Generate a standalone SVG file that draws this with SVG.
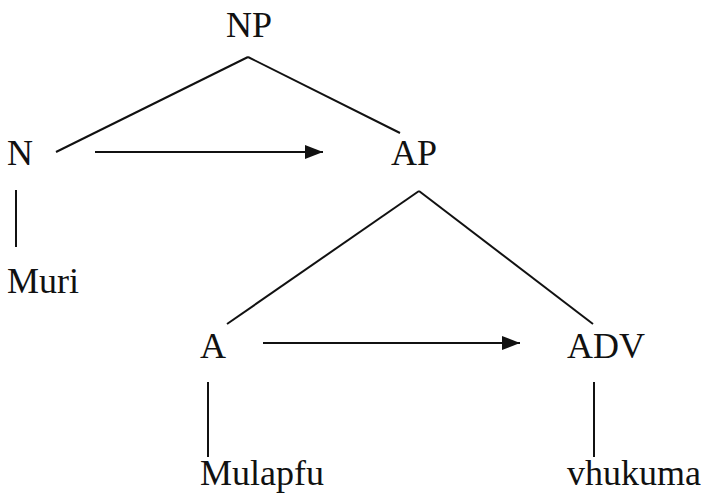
<svg xmlns="http://www.w3.org/2000/svg" width="723" height="495" viewBox="0 0 723 495">
<style>
text{font-family:"Liberation Serif","Times New Roman",serif;font-size:36px;fill:#111}
.e{stroke:#111;stroke-width:2;fill:none}
</style>
<defs>
<marker id="ah" markerWidth="18" markerHeight="14" refX="18" refY="7" orient="auto" markerUnits="userSpaceOnUse">
<path d="M0,0 L18,7 L0,14 Z" fill="#111"/>
</marker>
</defs>
<rect width="723" height="495" fill="#fff"/>
<g id="connectors">
<line class="e" x1="248" y1="57" x2="56" y2="152"/>
<line class="e" x1="248" y1="57" x2="400" y2="133"/>
<line class="e" x1="95" y1="152" x2="323" y2="152" marker-end="url(#ah)"/>
<line class="e" x1="16" y1="190" x2="16" y2="247"/>
<line class="e" x1="419" y1="191" x2="227" y2="324"/>
<line class="e" x1="419" y1="191" x2="593" y2="324"/>
<line class="e" x1="263" y1="343" x2="520" y2="343" marker-end="url(#ah)"/>
<line class="e" x1="208" y1="382" x2="208" y2="457"/>
<line class="e" x1="594" y1="382" x2="594" y2="457"/>
</g>
<g id="NP"><text x="249" y="37" text-anchor="middle">NP</text></g>
<g id="N"><text x="7" y="165">N</text></g>
<g id="AP"><text x="391" y="165">AP</text></g>
<g id="Muri"><text x="7" y="293">Muri</text></g>
<g id="A"><text x="200" y="358">A</text></g>
<g id="ADV"><text x="567" y="358">ADV</text></g>
<g id="Mulapfu"><text x="200" y="485">Mulapfu</text></g>
<g id="vhukuma"><text x="567" y="485">vhukuma</text></g>
</svg>
